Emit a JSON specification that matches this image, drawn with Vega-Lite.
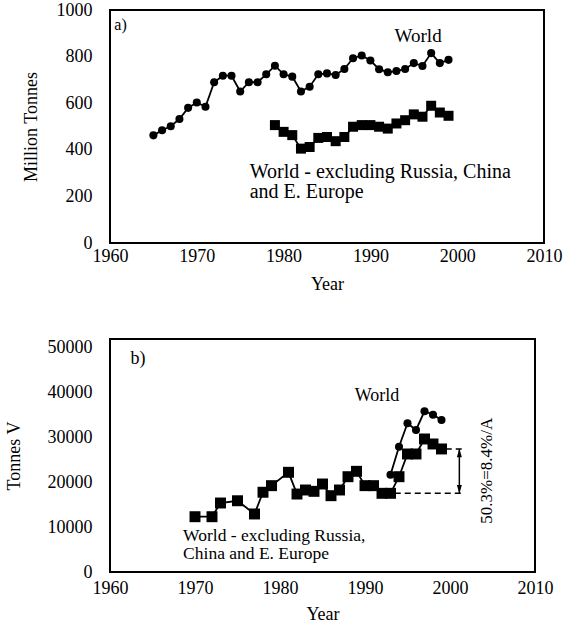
{
  "$schema": "https://vega.github.io/schema/vega-lite/v6.json",
  "padding": {"left": 4, "top": 0, "right": 10, "bottom": 2},
  "spacing": 43,
  "config": {
    "font": "Liberation Serif",
    "view": {"stroke": "black", "strokeWidth": 2},
    "axis": {
      "domain": false, "ticks": false, "grid": false,
      "labelFont": "Liberation Serif", "labelFontSize": 18, "labelColor": "black",
      "titleFont": "Liberation Serif", "titleFontSize": 18, "titleFontWeight": "normal", "titleColor": "black",
      "labelFlush": false, "labelOverlap": false
    },
    "text": {"font": "Liberation Serif", "color": "black"}
  },
  "datasets": {
    "a": [
      {"series": "World", "year": 1965, "value": 462},
      {"series": "World", "year": 1966, "value": 484},
      {"series": "World", "year": 1967, "value": 501},
      {"series": "World", "year": 1968, "value": 532},
      {"series": "World", "year": 1969, "value": 580},
      {"series": "World", "year": 1970, "value": 603},
      {"series": "World", "year": 1971, "value": 585},
      {"series": "World", "year": 1972, "value": 690},
      {"series": "World", "year": 1973, "value": 718},
      {"series": "World", "year": 1974, "value": 718},
      {"series": "World", "year": 1975, "value": 650},
      {"series": "World", "year": 1976, "value": 690},
      {"series": "World", "year": 1977, "value": 690},
      {"series": "World", "year": 1978, "value": 724},
      {"series": "World", "year": 1979, "value": 761},
      {"series": "World", "year": 1980, "value": 724},
      {"series": "World", "year": 1981, "value": 714},
      {"series": "World", "year": 1982, "value": 650},
      {"series": "World", "year": 1983, "value": 671},
      {"series": "World", "year": 1984, "value": 724},
      {"series": "World", "year": 1985, "value": 728},
      {"series": "World", "year": 1986, "value": 721},
      {"series": "World", "year": 1987, "value": 747},
      {"series": "World", "year": 1988, "value": 793},
      {"series": "World", "year": 1989, "value": 805},
      {"series": "World", "year": 1990, "value": 783},
      {"series": "World", "year": 1991, "value": 746},
      {"series": "World", "year": 1992, "value": 733},
      {"series": "World", "year": 1993, "value": 738},
      {"series": "World", "year": 1994, "value": 747},
      {"series": "World", "year": 1995, "value": 772},
      {"series": "World", "year": 1996, "value": 760},
      {"series": "World", "year": 1997, "value": 815},
      {"series": "World", "year": 1998, "value": 772},
      {"series": "World", "year": 1999, "value": 786},
      {"series": "Excl", "year": 1979, "value": 506},
      {"series": "Excl", "year": 1980, "value": 477},
      {"series": "Excl", "year": 1981, "value": 463},
      {"series": "Excl", "year": 1982, "value": 405},
      {"series": "Excl", "year": 1983, "value": 412},
      {"series": "Excl", "year": 1984, "value": 451},
      {"series": "Excl", "year": 1985, "value": 455},
      {"series": "Excl", "year": 1986, "value": 437},
      {"series": "Excl", "year": 1987, "value": 455},
      {"series": "Excl", "year": 1988, "value": 499},
      {"series": "Excl", "year": 1989, "value": 506},
      {"series": "Excl", "year": 1990, "value": 506},
      {"series": "Excl", "year": 1991, "value": 499},
      {"series": "Excl", "year": 1992, "value": 491},
      {"series": "Excl", "year": 1993, "value": 513},
      {"series": "Excl", "year": 1994, "value": 527},
      {"series": "Excl", "year": 1995, "value": 552},
      {"series": "Excl", "year": 1996, "value": 542},
      {"series": "Excl", "year": 1997, "value": 589},
      {"series": "Excl", "year": 1998, "value": 560},
      {"series": "Excl", "year": 1999, "value": 546}
    ],
    "b": [
      {"series": "World", "year": 1993, "value": 21720},
      {"series": "World", "year": 1994, "value": 27970},
      {"series": "World", "year": 1995, "value": 33190},
      {"series": "World", "year": 1996, "value": 31700},
      {"series": "World", "year": 1997, "value": 35870},
      {"series": "World", "year": 1998, "value": 35110},
      {"series": "World", "year": 1999, "value": 33930},
      {"series": "Excl", "year": 1970, "value": 12340},
      {"series": "Excl", "year": 1972, "value": 12340},
      {"series": "Excl", "year": 1973, "value": 15400},
      {"series": "Excl", "year": 1975, "value": 15900},
      {"series": "Excl", "year": 1977, "value": 12950},
      {"series": "Excl", "year": 1978, "value": 17800},
      {"series": "Excl", "year": 1979, "value": 19270},
      {"series": "Excl", "year": 1981, "value": 22250},
      {"series": "Excl", "year": 1982, "value": 17400},
      {"series": "Excl", "year": 1983, "value": 18300},
      {"series": "Excl", "year": 1984, "value": 18000},
      {"series": "Excl", "year": 1985, "value": 19640},
      {"series": "Excl", "year": 1986, "value": 17030},
      {"series": "Excl", "year": 1987, "value": 18300},
      {"series": "Excl", "year": 1988, "value": 21270},
      {"series": "Excl", "year": 1989, "value": 22470},
      {"series": "Excl", "year": 1990, "value": 19270},
      {"series": "Excl", "year": 1991, "value": 19270},
      {"series": "Excl", "year": 1992, "value": 17560},
      {"series": "Excl", "year": 1993, "value": 17560},
      {"series": "Excl", "year": 1994, "value": 21270},
      {"series": "Excl", "year": 1995, "value": 26340},
      {"series": "Excl", "year": 1996, "value": 26340},
      {"series": "Excl", "year": 1997, "value": 29690},
      {"series": "Excl", "year": 1998, "value": 28570},
      {"series": "Excl", "year": 1999, "value": 27460}
    ],
    "aText": [
      {"year": 1976.1, "value": 306, "label": "World - excluding Russia, China"},
      {"year": 1976.1, "value": 220, "label": "and E. Europe"}
    ],
    "bText": [
      {"year": 1968.6, "value": 8110, "label": "World - excluding Russia,"},
      {"year": 1968.6, "value": 4020, "label": "China and E. Europe"}
    ],
    "bDash": [
      {"x1": 1993.5, "x2": 2001.6, "value": 17560},
      {"x1": 1999.5, "x2": 2001.6, "value": 27460}
    ],
    "bArrow": [{"year": 2001.1, "lo": 17560, "hi": 27460}],
    "bHeadUp": [{"year": 2001.1, "value": 26560}],
    "bHeadDown": [{"year": 2001.1, "value": 18460}]
  },
  "vconcat": [
    {
      "width": 434,
      "height": 233,
      "encoding": {
        "x": {"field": "year", "type": "quantitative", "scale": {"domain": [1960, 2010], "nice": false},
              "axis": {"values": [1960, 1970, 1980, 1990, 2000, 2010], "format": "d", "labelPadding": 4, "title": "Year", "titlePadding": 10}},
        "y": {"field": "value", "type": "quantitative", "scale": {"domain": [0, 1000], "nice": false},
              "axis": {"values": [0, 200, 400, 600, 800, 1000], "format": "d", "labelPadding": 18, "title": "Million Tonnes", "titlePadding": 16}}
      },
      "layer": [
        {"data": {"name": "a"}, "mark": {"type": "line", "color": "black", "strokeWidth": 1.8}, "encoding": {"detail": {"field": "series"}}},
        {"data": {"name": "a"}, "transform": [{"filter": "datum.series === 'World'"}], "mark": {"type": "point", "shape": "circle", "filled": true, "color": "black", "opacity": 1, "size": 65}},
        {"data": {"name": "a"}, "transform": [{"filter": "datum.series === 'Excl'"}], "mark": {"type": "point", "shape": "square", "filled": true, "color": "black", "opacity": 1, "size": 100}},
        {"data": {"values": [{"year": 1960.5, "value": 935, "label": "a)"}]}, "mark": {"type": "text", "align": "left", "baseline": "middle", "fontSize": 16}, "encoding": {"text": {"field": "label"}}},
        {"data": {"values": [{"year": 1995.5, "value": 890, "label": "World"}]}, "mark": {"type": "text", "align": "center", "baseline": "middle", "fontSize": 19}, "encoding": {"text": {"field": "label"}}},
        {"data": {"name": "aText"}, "mark": {"type": "text", "align": "left", "baseline": "middle", "fontSize": 20}, "encoding": {"text": {"field": "label"}}}
      ]
    },
    {
      "width": 425,
      "height": 233,
      "encoding": {
        "x": {"field": "year", "type": "quantitative", "scale": {"domain": [1960, 2010], "nice": false},
              "axis": {"values": [1960, 1970, 1980, 1990, 2000, 2010], "format": "d", "labelPadding": 7, "title": "Year", "titlePadding": 8}},
        "y": {"field": "value", "type": "quantitative", "scale": {"domain": [0, 52000], "nice": false},
              "axis": {"values": [0, 10000, 20000, 30000, 40000, 50000], "format": "d", "labelPadding": 18, "title": "Tonnes V", "titlePadding": 24}}
      },
      "layer": [
        {"data": {"name": "b"}, "mark": {"type": "line", "color": "black", "strokeWidth": 1.8}, "encoding": {"detail": {"field": "series"}}},
        {"data": {"name": "b"}, "transform": [{"filter": "datum.series === 'World'"}], "mark": {"type": "point", "shape": "circle", "filled": true, "color": "black", "opacity": 1, "size": 65}},
        {"data": {"name": "b"}, "transform": [{"filter": "datum.series === 'Excl'"}], "mark": {"type": "point", "shape": "square", "filled": true, "color": "black", "opacity": 1, "size": 120}},
        {"data": {"name": "bDash"}, "mark": {"type": "rule", "color": "black", "strokeWidth": 1.5, "strokeDash": [6, 4]}, "encoding": {"x": {"field": "x1", "type": "quantitative"}, "x2": {"field": "x2"}, "y": {"field": "value", "type": "quantitative"}}},
        {"data": {"name": "bArrow"}, "mark": {"type": "rule", "color": "black", "strokeWidth": 1.5}, "encoding": {"y": {"field": "lo", "type": "quantitative"}, "y2": {"field": "hi"}}},
        {"data": {"name": "bHeadUp"}, "mark": {"type": "point", "shape": "M0,-1L-0.6,1L0.6,1Z", "filled": true, "color": "black", "opacity": 1, "size": 70}},
        {"data": {"name": "bHeadDown"}, "mark": {"type": "point", "shape": "M0,1L-0.6,-1L0.6,-1Z", "filled": true, "color": "black", "opacity": 1, "size": 70}},
        {"data": {"values": [{"year": 1962.4, "value": 47540, "label": "b)"}]}, "mark": {"type": "text", "align": "left", "baseline": "middle", "fontSize": 18}, "encoding": {"text": {"field": "label"}}},
        {"data": {"values": [{"year": 1991.4, "value": 39350, "label": "World"}]}, "mark": {"type": "text", "align": "center", "baseline": "middle", "fontSize": 18}, "encoding": {"text": {"field": "label"}}},
        {"data": {"name": "bText"}, "mark": {"type": "text", "align": "left", "baseline": "middle", "fontSize": 17.5}, "encoding": {"text": {"field": "label"}}},
        {"data": {"values": [{"year": 2004.3, "value": 22600, "label": "50.3%=8.4%/A"}]}, "mark": {"type": "text", "align": "center", "baseline": "middle", "fontSize": 17, "angle": 270}, "encoding": {"text": {"field": "label"}}}
      ]
    }
  ]
}
